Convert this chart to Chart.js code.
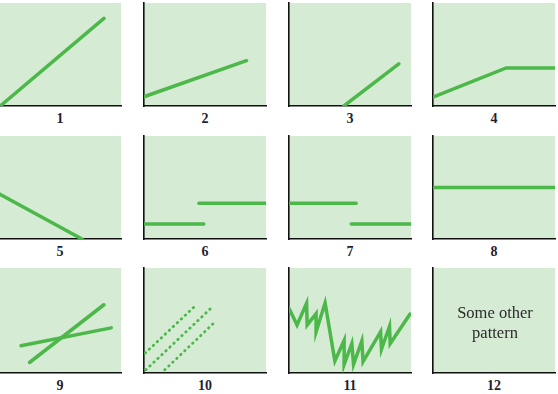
<!DOCTYPE html>
<html>
<head>
<meta charset="utf-8">
<script src="https://cdn.jsdelivr.net/npm/chart.js@4/dist/chart.umd.min.js"></script>
<style>
  html, body { margin: 0; padding: 0; background: #fff; }
  body { position: relative; width: 558px; height: 394px; overflow: hidden; }
  canvas { position: absolute; }
  .lbl {
    position: absolute; width: 60px; text-align: center;
    font: bold 14px "Liberation Serif", serif; line-height: 14px; color: #1f1f33;
  }
  .note {
    position: absolute; width: 120px; text-align: center;
    font: 16.5px "Liberation Serif", serif; line-height: 20px; color: #2b2b2b;
  }
</style>
</head>
<body>
<script>
"use strict";

// panel labels
const panelLabels = ["1", "2", "3", "4", "5", "6", "7", "8", "9", "10", "11", "12"];

// each series is a list of [x, y] pairs, in percent of the panel (0-100)
const p1Line = [[1, 0], [86, 85]];
const p2Line = [[0, 9], [84, 44]];
const p3Line = [[45, 0], [90, 41]];
const p4Line = [[0, 8.5], [60, 37], [100, 37]];
const p5Line = [[0, 44], [68, 0]];
const p6Low = [[0, 14.6], [49, 14.6]];
const p6High = [[45, 34.7], [100, 34.7]];
const p7High = [[0, 34.7], [55, 34.7]];
const p7Low = [[51, 14.6], [100, 14.6]];
const p8Line = [[0, 50], [100, 50]];
const p9Steep = [[25, 10], [86, 65]];
const p9Flat = [[18, 26], [92, 43]];
const p10DotA = [[1, 19], [43, 65]];
const p10DotB = [[1.5, 3], [57, 64]];
const p10DotC = [[17, 3], [59, 49.5]];
const p11Zigzag = [
  [0, 61.6], [6.6, 45.7], [14.4, 66.4], [14.9, 45.7], [22.2, 56.5], [22.2, 39.3],
  [29.6, 66.7], [37.6, 11.4], [45.2, 31.1], [45.2, 8.1], [51.5, 28.1], [52.9, 8.1],
  [59.7, 30.5], [60.7, 10.8], [75.1, 39.3], [75.8, 22.6], [82.4, 44.5], [82.9, 27.9],
  [99.2, 56.2]
];
const p12Text = ["Some other", "pattern"];

const panelSeries = [
  [p1Line], [p2Line], [p3Line], [p4Line],
  [p5Line], [p6Low, p6High], [p7High, p7Low], [p8Line],
  [p9Steep, p9Flat], [p10DotA, p10DotB, p10DotC], [p11Zigzag], []
];
const dotted = [false, false, false, false, false, false, false, false, false, true, false, false];

// layout of the grid
const colAxisX = [-1, 144, 289, 433];
const panelW = 122;
const rowTop = [3, 136, 268];
const rowBottom = [106, 239, 373];
const pad = { left: 3, right: 1, top: 1, bottom: 3 };

const lineGreen = "#4cb84a";
const panelBg = "#d6ebd4";

const bgPlugin = {
  id: "panelBg",
  beforeDraw(chart) {
    const a = chart.chartArea;
    const ctx = chart.ctx;
    ctx.save();
    ctx.fillStyle = panelBg;
    ctx.fillRect(a.left, a.top, a.right - a.left, a.bottom - a.top);
    ctx.restore();
  }
};

for (let i = 0; i < 12; i++) {
  let col = i % 4;
  let row = Math.floor(i / 4);
  let h = rowBottom[row] - rowTop[row];

  let cv = document.createElement("canvas");
  cv.width = pad.left + panelW + pad.right;
  cv.height = pad.top + h + pad.bottom;
  cv.style.left = (colAxisX[col] - pad.left) + "px";
  cv.style.top = (rowTop[row] - pad.top) + "px";
  document.body.appendChild(cv);

  let datasets = panelSeries[i].map(function (s) {
    return {
      data: s.map(function (p) { return { x: p[0], y: p[1] }; }),
      borderColor: lineGreen,
      borderWidth: dotted[i] ? 2.8 : 3.5,
      borderDash: dotted[i] ? [0.5, 5] : [],
      borderCapStyle: "round",
      borderJoinStyle: "miter",
      pointRadius: 0,
      tension: 0,
      fill: false
    };
  });

  let axis = {
    type: "linear", min: 0, max: 100,
    ticks: { display: false },
    grid: { display: false, drawTicks: false },
    border: { display: true, color: "#111", width: 1.6 }
  };

  new Chart(cv, {
    type: "line",
    data: { datasets: datasets },
    options: {
      responsive: false,
      animation: false,
      layout: { padding: pad },
      plugins: { legend: { display: false }, tooltip: { enabled: false } },
      scales: { x: Object.assign({}, axis), y: Object.assign({}, axis) }
    },
    plugins: [bgPlugin]
  });

  let lbl = document.createElement("div");
  lbl.className = "lbl";
  lbl.textContent = panelLabels[i];
  lbl.style.left = (colAxisX[col] + panelW / 2 - 30) + "px";
  lbl.style.top = (rowBottom[row] + 6) + "px";
  document.body.appendChild(lbl);

  if (i === 11) {
    let note = document.createElement("div");
    note.className = "note";
    note.innerHTML = p12Text.join("<br>");
    note.style.left = (colAxisX[col] + panelW / 2 - 60 + 1) + "px";
    note.style.top = "303px";
    document.body.appendChild(note);
  }
}
</script>
</body>
</html>
